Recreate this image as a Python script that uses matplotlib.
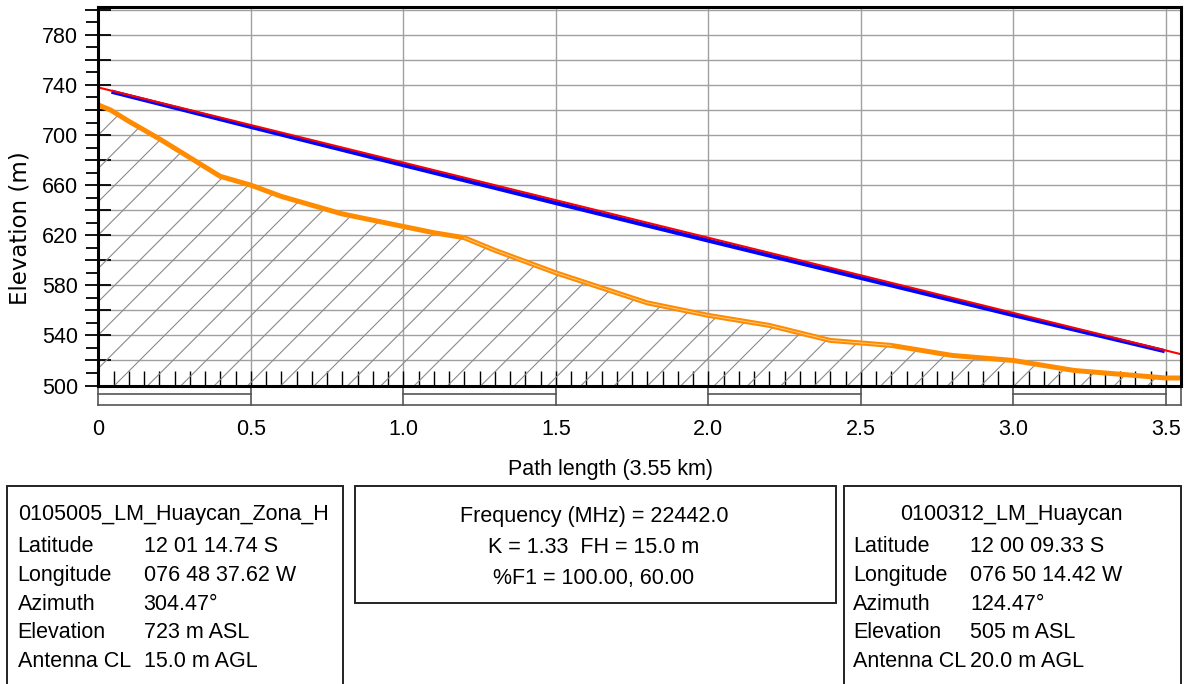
import numpy as np
import matplotlib.pyplot as plt
import matplotlib.transforms as mtransforms
from matplotlib.ticker import MultipleLocator, FuncFormatter
from matplotlib.patches import Rectangle

plt.rcParams['font.family'] = ['Liberation Sans', 'DejaVu Sans']
plt.rcParams['hatch.linewidth'] = 0.8

# terrain profile (km, m ASL)
dist = [0.0, 0.04, 0.1, 0.2, 0.3, 0.4, 0.5, 0.6, 0.7, 0.8, 0.9, 1.0, 1.1, 1.2, 1.3, 1.4,
        1.5, 1.6, 1.7, 1.8, 1.9, 2.0, 2.1, 2.2, 2.3, 2.4, 2.5, 2.6, 2.7, 2.8, 2.9,
        3.0, 3.1, 3.2, 3.3, 3.4, 3.5, 3.55]
terrain = [724, 720, 711, 697, 682, 667, 660, 651, 644, 637, 632, 627, 622, 618, 608, 599,
           590, 582, 574, 566, 561, 556, 552, 548, 542, 536, 534, 532, 528, 524, 522,
           520, 516, 512, 510, 508, 506, 506]

# line of sight between antennas
los_x = [0.0, 3.55]
los_y = [738, 525]
# beam line
beam_x = [0.05, 0.5, 1.0, 1.5, 2.0, 2.5, 3.0, 3.49]
beam_y = [734.2, 706.5, 676.0, 645.7, 615.7, 585.9, 556.2, 527.8]

site_a = ['0105005_LM_Huaycan_Zona_H', '12 01 14.74 S', '076 48 37.62 W', '304.47°', '723 m ASL', '15.0 m AGL']
site_b = ['0100312_LM_Huaycan', '12 00 09.33 S', '076 50 14.42 W', '124.47°', '505 m ASL', '20.0 m AGL']
row_names = ['Latitude', 'Longitude', 'Azimuth', 'Elevation', 'Antenna CL']
info = ['Frequency (MHz) = 22442.0', 'K = 1.33  FH = 15.0 m', '%F1 = 100.00, 60.00']

W, H = 1192, 684
fs = 15.5
fig = plt.figure(figsize=(W / 100, H / 100), dpi=100)


def fx(px):
    return px / W


def fy(py):
    return 1 - py / H


ax = fig.add_axes([fx(98.3), fy(385.5), (1181 - 98.3) / W, (385.5 - 7.3) / H])
ax.set_xlim(0, 3.55)
ax.set_ylim(500, 802)
ax.set_axisbelow(True)
ax.grid(True, color='#a0a0a0', lw=1)

ax.fill_between(dist, terrain, 500, facecolor='none', edgecolor='#8a8a8a', hatch='/', lw=0)
ax.plot(dist, terrain, color='#ff8c00', lw=3.6)
# light centre seam seen on the middle part of the profile
ax.plot(dist[13:28], terrain[13:28], color='#ffc98a', lw=0.7)
ax.plot(beam_x, beam_y, color='#0000ff', lw=3)
ax.plot(los_x, los_y, color='#ff0000', lw=1.5)

ax.yaxis.set_major_locator(MultipleLocator(20))
ax.yaxis.set_minor_locator(MultipleLocator(10))
ax.yaxis.set_major_formatter(FuncFormatter(lambda v, p: f'{v:.0f}' if round(v) % 40 == 20 else ''))
ax.tick_params(axis='y', which='major', direction='inout', length=18.7, width=1.3, labelsize=fs, pad=5)
ax.tick_params(axis='y', which='minor', direction='out', length=8.6, width=1.3)

ax.xaxis.set_major_locator(MultipleLocator(0.5))
ax.xaxis.set_minor_locator(MultipleLocator(0.05))
ax.xaxis.set_major_formatter(FuncFormatter(lambda v, p: '0' if v == 0 else f'{v:.1f}'))
ax.tick_params(axis='x', which='both', direction='in', length=10.8, width=1.0, labelsize=fs, pad=24)

for s in ax.spines.values():
    s.set_linewidth(2.2)
    s.set_color('black')

# scale bar under the axis
trans = mtransforms.blended_transform_factory(ax.transData, ax.transAxes)
yb = -(405 - 385.5) / 378.2
ym = -(394 - 385.5) / 378.2
sb = dict(transform=trans, clip_on=False, color='#555555', lw=1.2)
ax.plot([0, 3.55], [yb, yb], **sb)
for xs in list(np.arange(0, 3.55, 0.5)) + [3.55]:
    ax.plot([xs, xs], [0, yb], **sb)
for xs in [0.0, 1.0, 2.0, 3.0]:
    ax.plot([xs, xs + 0.5], [ym, ym], **sb)

fig.text(fx(610), fy(475), 'Path length (3.55 km)', fontsize=fs, ha='center', va='baseline')
fig.text(fx(20), fy(228), 'Elevation (m)', fontsize=16.5, family='DejaVu Sans',
         rotation=90, ha='center', va='center')

# info boxes
boxes = [(6.7, 485.7, 342.7, 700), (355, 485.7, 835.7, 603), (844.3, 485.7, 1181, 700)]
for x0, y0, x1, y1 in boxes:
    fig.add_artist(Rectangle((fx(x0), fy(y1)), (x1 - x0) / W, (y1 - y0) / H,
                             transform=fig.transFigure, fill=False, lw=1.4, ec='#222222'))

rows_y = [552, 581, 610, 638.5, 667]
fig.text(fx(18), fy(520), site_a[0], fontsize=fs, va='baseline')
for name, val, yy in zip(row_names, site_a[1:], rows_y):
    fig.text(fx(17.5), fy(yy), name, fontsize=fs, va='baseline')
    fig.text(fx(143.5), fy(yy), val, fontsize=fs, va='baseline')

fig.text(fx(1011), fy(520), site_b[0], fontsize=fs, ha='center', va='baseline')
for name, val, yy in zip(row_names, site_b[1:], rows_y):
    fig.text(fx(853.3), fy(yy), name, fontsize=fs, va='baseline')
    fig.text(fx(970), fy(yy), val, fontsize=fs, va='baseline')

for line, yy in zip(info, [521.7, 553.3, 584.3]):
    fig.text(fx(594), fy(yy), line, fontsize=fs, ha='center', va='baseline')

fig.savefig('out.png', dpi=100)
